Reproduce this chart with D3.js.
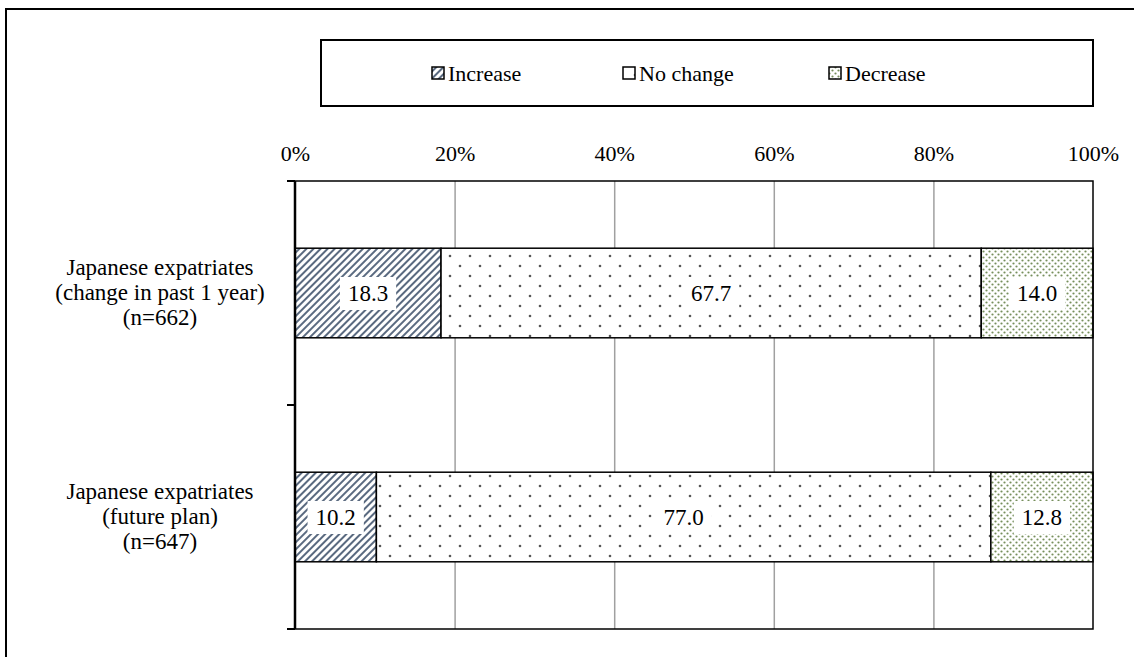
<!DOCTYPE html>
<html>
<head>
<meta charset="utf-8">
<script src="https://cdn.jsdelivr.net/npm/d3@7"></script>
</head>
<body style="margin:0; background:#fff">
<div id="chart"></div>
<script>
const categories = [
  ['Japanese expatriates', '(change in past 1 year)', '(n=662)'],
  ['Japanese expatriates', '(future plan)', '(n=647)']
];
const seriesNames = ['Increase', 'No change', 'Decrease'];
const increase = [18.3, 10.2];
const noChange = [67.7, 77.0];
const decrease = [14.0, 12.8];
const tickValues = [0, 20, 40, 60, 80, 100];

const W = 1134, H = 657;
const margin = { top: 181, right: 41, bottom: 28, left: 295 };
const width = W - margin.left - margin.right;
const height = H - margin.top - margin.bottom;
const FONT = 'Liberation Serif';

const svg = d3.select('#chart').append('svg')
  .attr('width', W)
  .attr('height', H);

// patterns for the three series
const defs = svg.append('defs');

const stripes = defs.append('pattern')
  .attr('id', 'pat-increase')
  .attr('patternUnits', 'userSpaceOnUse')
  .attr('width', 5).attr('height', 5)
  .attr('patternTransform', 'rotate(45)');
stripes.append('rect').attr('width', 5).attr('height', 5).attr('fill', '#fff');
stripes.append('rect').attr('width', 2).attr('height', 5).attr('fill', '#5a6a80');

const sparse = defs.append('pattern')
  .attr('id', 'pat-nochange')
  .attr('patternUnits', 'userSpaceOnUse')
  .attr('width', 20).attr('height', 20);
sparse.append('rect').attr('width', 20).attr('height', 20).attr('fill', '#fff');
sparse.append('circle').attr('cx', 5).attr('cy', 5).attr('r', 1.3).attr('fill', '#555');
sparse.append('circle').attr('cx', 15).attr('cy', 15).attr('r', 1.3).attr('fill', '#555');

const dense = defs.append('pattern')
  .attr('id', 'pat-decrease')
  .attr('patternUnits', 'userSpaceOnUse')
  .attr('width', 6).attr('height', 6);
dense.append('rect').attr('width', 6).attr('height', 6).attr('fill', '#fff');
dense.append('circle').attr('cx', 1.5).attr('cy', 1.5).attr('r', 1.1).attr('fill', '#768f5c');
dense.append('circle').attr('cx', 4.5).attr('cy', 4.5).attr('r', 1.1).attr('fill', '#768f5c');

const fills = ['url(#pat-increase)', 'url(#pat-nochange)', 'url(#pat-decrease)'];

// outer frame (cropped at right and bottom)
svg.append('rect')
  .attr('x', 6).attr('y', 9)
  .attr('width', 1300).attr('height', 800)
  .attr('fill', 'none')
  .attr('stroke', '#000')
  .attr('stroke-width', 2);

const g = svg.append('g')
  .attr('transform', `translate(${margin.left},${margin.top})`);

const x = d3.scaleLinear().domain([0, 100]).range([0, width]);
const y = d3.scaleBand()
  .domain(d3.range(categories.length))
  .range([0, height])
  .paddingInner(0.6)
  .paddingOuter(0.3);

// vertical grid lines
g.append('g')
  .call(d3.axisTop(x).tickValues(tickValues.slice(1, -1)).tickSize(-height).tickFormat(''))
  .call(s => s.select('.domain').remove())
  .selectAll('line')
  .attr('stroke', '#a0a0a0')
  .attr('stroke-width', 1.5);

// percent tick labels on top
g.append('g')
  .call(d3.axisTop(x).tickValues(tickValues).tickSize(0).tickPadding(20).tickFormat(d => d + '%'))
  .call(s => s.select('.domain').remove())
  .selectAll('text')
  .attr('font-family', FONT)
  .attr('font-size', 22)
  .attr('fill', '#000');

// stacked bars
const stackData = categories.map((c, i) => ({ i, Increase: increase[i], 'No change': noChange[i], Decrease: decrease[i] }));
const stacked = d3.stack().keys(seriesNames)(stackData);

stacked.forEach((layer, k) => {
  g.selectAll(null)
    .data(layer)
    .enter().append('rect')
    .attr('x', d => x(d[0]))
    .attr('y', d => y(d.data.i))
    .attr('width', d => x(d[1]) - x(d[0]))
    .attr('height', y.bandwidth())
    .attr('fill', fills[k])
    .attr('stroke', '#000')
    .attr('stroke-width', 1.5);
});

// value labels with white boxes
stacked.forEach(layer => {
  layer.forEach(d => {
    const cx = x((d[0] + d[1]) / 2);
    const cy = y(d.data.i) + y.bandwidth() / 2;
    const lab = g.append('g');
    const t = lab.append('text')
      .attr('x', cx)
      .attr('y', cy + 8)
      .attr('text-anchor', 'middle')
      .attr('font-family', FONT)
      .attr('font-size', 23)
      .text((d[1] - d[0]).toFixed(1));
    const bb = t.node().getBBox();
    lab.insert('rect', 'text')
      .attr('x', bb.x - 8)
      .attr('y', cy - 16)
      .attr('width', bb.width + 16)
      .attr('height', 33)
      .attr('fill', '#fff');
  });
});

// plot area border
g.append('rect')
  .attr('width', width)
  .attr('height', height)
  .attr('fill', 'none')
  .attr('stroke', '#000')
  .attr('stroke-width', 1.5);

// left axis line with ticks at category boundaries
g.append('line')
  .attr('x1', 0).attr('x2', 0)
  .attr('y1', 0).attr('y2', height)
  .attr('stroke', '#000')
  .attr('stroke-width', 2.5);
const step = y.step();
g.selectAll('.cat-tick')
  .data(d3.range(categories.length + 1))
  .enter().append('line')
  .attr('class', 'cat-tick')
  .attr('x1', -8).attr('x2', 0)
  .attr('y1', d => y(0) - y.paddingOuter() * step + d * step)
  .attr('y2', d => y(0) - y.paddingOuter() * step + d * step)
  .attr('stroke', '#000')
  .attr('stroke-width', 2);

// category labels, three lines centred on each bar
categories.forEach((lines, i) => {
  const cy = y(i) + y.bandwidth() / 2;
  const t = svg.append('text')
    .attr('text-anchor', 'middle')
    .attr('font-family', FONT)
    .attr('font-size', 23);
  lines.forEach((line, j) => {
    t.append('tspan')
      .attr('x', 160)
      .attr('y', margin.top + cy + 7 + (j - 1) * 25)
      .text(line);
  });
});

// legend
const legend = svg.append('g');
legend.append('rect')
  .attr('x', 321).attr('y', 40)
  .attr('width', 772).attr('height', 66)
  .attr('fill', '#fff')
  .attr('stroke', '#000')
  .attr('stroke-width', 2);

const legendX = [432, 623, 829];
seriesNames.forEach((name, k) => {
  legend.append('rect')
    .attr('x', legendX[k]).attr('y', 67)
    .attr('width', 12).attr('height', 12)
    .attr('fill', fills[k])
    .attr('stroke', '#000')
    .attr('stroke-width', 1.5);
  legend.append('text')
    .attr('x', legendX[k] + 16)
    .attr('y', 81)
    .attr('font-family', FONT)
    .attr('font-size', 22)
    .text(name);
});
</script>
</body>
</html>
